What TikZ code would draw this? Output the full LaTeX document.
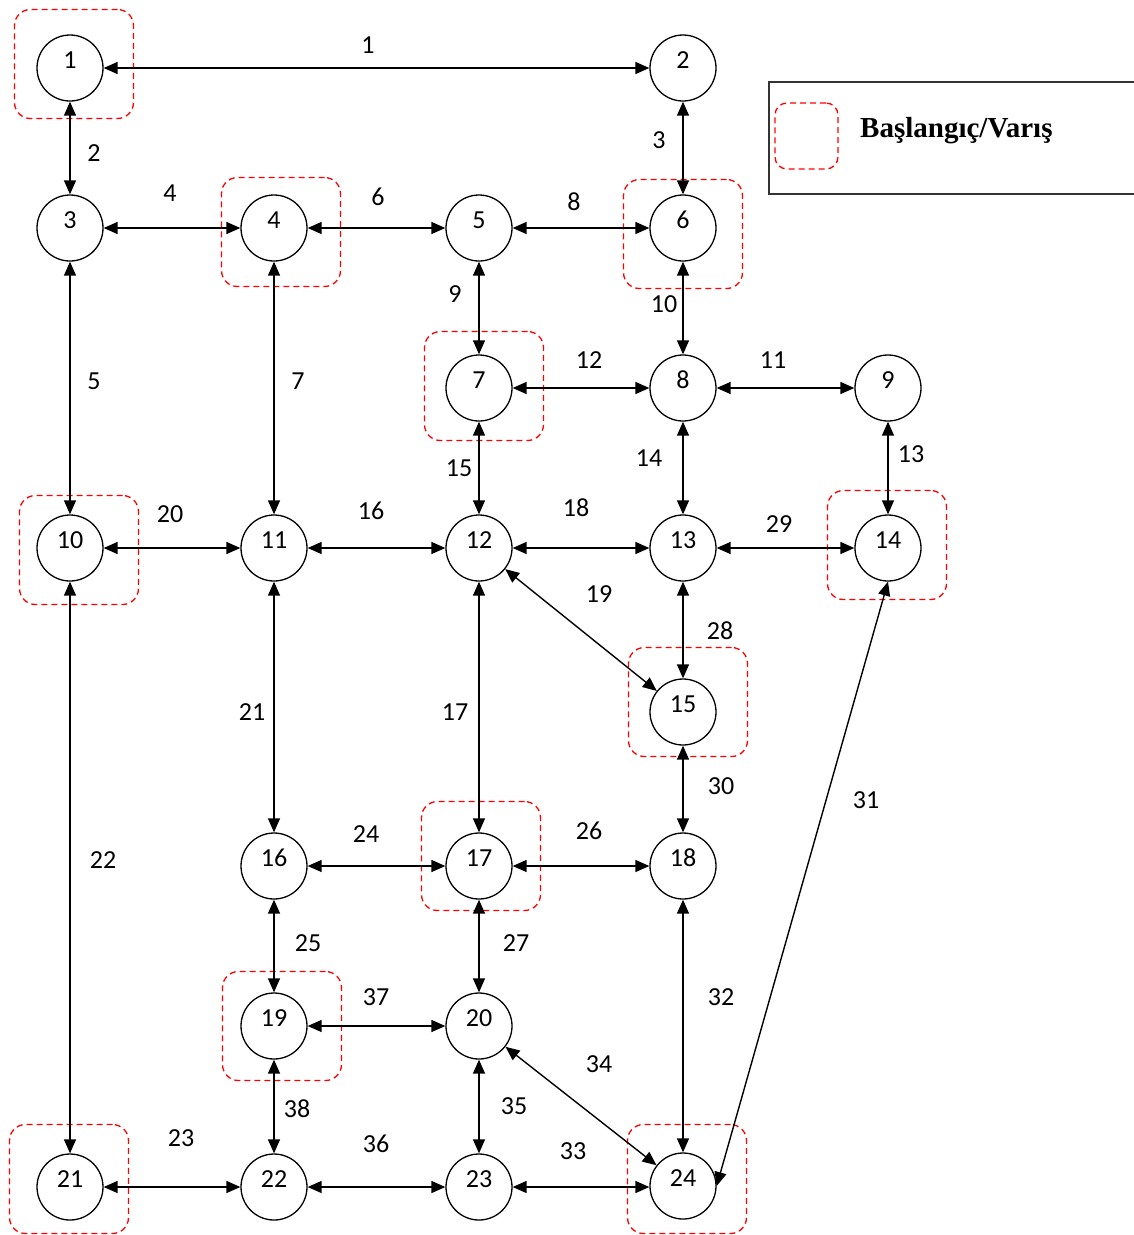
\documentclass[tikz,border=0pt]{standalone}
\usepackage{fontspec}
\setmainfont{Carlito}
\newfontfamily\legendfont{Liberation Serif}
\usetikzlibrary{arrows.meta}
\begin{document}
\begin{tikzpicture}[x=1pt,y=-1pt,
  gnode/.style={circle,draw,line width=1.3pt,minimum size=66pt,inner sep=0pt},
  numlbl/.style={font=\fontsize{26}{28}\selectfont,yshift=8pt,inner sep=0pt},
  elbl/.style={font=\fontsize{26}{28}\selectfont,inner sep=0pt},
  sdbox/.style={draw=red,dash pattern=on 6pt off 4pt,line width=1.3pt,rounded corners=16pt,minimum width=119pt,minimum height=109pt,inner sep=0pt},
  link/.style={line width=1.4pt,{Triangle[length=14pt,width=12pt]}-{Triangle[length=14pt,width=12pt]}}]
\useasboundingbox (0,0) rectangle (1134,1235);

% legend
\draw[line width=1.8pt,black!80] (1134,82) -- (769,82) -- (769,194) -- (1134,194);
\node[sdbox,minimum width=63pt,minimum height=66pt,rounded corners=12pt] (legbox) at (806.5,136) {};
\node[font=\legendfont\bfseries\fontsize{29}{31}\selectfont,anchor=west,inner sep=0pt] (legtxt) at (860,131) {Başlangıç/Varış};

% start/destination boxes
\node[sdbox] (b1) at (74,64) {};
\node[sdbox] (b4) at (281,232) {};
\node[sdbox] (b6) at (683,234) {};
\node[sdbox] (b7) at (484,386) {};
\node[sdbox] (b10) at (79,550) {};
\node[sdbox] (b14) at (887,545) {};
\node[sdbox] (b15) at (688,702) {};
\node[sdbox] (b17) at (481,856) {};
\node[sdbox] (b19) at (282,1026) {};
\node[sdbox] (b21) at (69,1179) {};
\node[sdbox] (b24) at (687,1179) {};

% nodes
\node[gnode,label={[numlbl]center:1}] (n1) at (70,68) {};
\node[gnode,label={[numlbl]center:2}] (n2) at (683,68) {};
\node[gnode,label={[numlbl]center:3}] (n3) at (70,228) {};
\node[gnode,label={[numlbl]center:4}] (n4) at (274,228) {};
\node[gnode,label={[numlbl]center:5}] (n5) at (479,228) {};
\node[gnode,label={[numlbl]center:6}] (n6) at (683,228) {};
\node[gnode,label={[numlbl]center:7}] (n7) at (479,388) {};
\node[gnode,label={[numlbl]center:8}] (n8) at (683,388) {};
\node[gnode,label={[numlbl]center:9}] (n9) at (888,388) {};
\node[gnode,label={[numlbl]center:10}] (n10) at (70,548) {};
\node[gnode,label={[numlbl]center:11}] (n11) at (274,548) {};
\node[gnode,label={[numlbl]center:12}] (n12) at (479,548) {};
\node[gnode,label={[numlbl]center:13}] (n13) at (683,548) {};
\node[gnode,label={[numlbl]center:14}] (n14) at (888,548) {};
\node[gnode,label={[numlbl]center:15}] (n15) at (683,712) {};
\node[gnode,label={[numlbl]center:16}] (n16) at (274,866) {};
\node[gnode,label={[numlbl]center:17}] (n17) at (479,866) {};
\node[gnode,label={[numlbl]center:18}] (n18) at (683,866) {};
\node[gnode,label={[numlbl]center:19}] (n19) at (274,1026) {};
\node[gnode,label={[numlbl]center:20}] (n20) at (479,1026) {};
\node[gnode,label={[numlbl]center:21}] (n21) at (70,1187) {};
\node[gnode,label={[numlbl]center:22}] (n22) at (274,1187) {};
\node[gnode,label={[numlbl]center:23}] (n23) at (479,1187) {};
\node[gnode,label={[numlbl]center:24}] (n24) at (683,1186) {};

% links
\draw[link] (n1) -- (n2);
\draw[link] (n1) -- (n3);
\draw[link] (n2) -- (n6);
\draw[link] (n3) -- (n4);
\draw[link] (n4) -- (n5);
\draw[link] (n5) -- (n6);
\draw[link] (n5) -- (n7);
\draw[link] (n6) -- (n8);
\draw[link] (n3) -- (n10);
\draw[link] (n4) -- (n11);
\draw[link] (n7) -- (n8);
\draw[link] (n8) -- (n9);
\draw[link] (n9) -- (n14);
\draw[link] (n8) -- (n13);
\draw[link] (n7) -- (n12);
\draw[link] (n10) -- (n11);
\draw[link] (n11) -- (n12);
\draw[link] (n12) -- (n13);
\draw[link] (n13) -- (n14);
\draw[link] (n12) -- (n15);
\draw[link] (n13) -- (n15);
\draw[link] (n11) -- (n16);
\draw[link] (n12) -- (n17);
\draw[link] (n15) -- (n18);
\draw[link] (n24.east) -- (n14.south);
\draw[link] (n10) -- (n21);
\draw[link] (n16) -- (n17);
\draw[link] (n17) -- (n18);
\draw[link] (n16) -- (n19);
\draw[link] (n17) -- (n20);
\draw[link] (n18) -- (n24);
\draw[link] (n19) -- (n20);
\draw[link] (n20) -- (n24);
\draw[link] (n19) -- (n22);
\draw[link] (n20) -- (n23);
\draw[link] (n21) -- (n22);
\draw[link] (n22) -- (n23);
\draw[link] (n23) -- (n24.west |- n23);

% link labels
\node[elbl] (e1) at (368,45) {1};
\node[elbl] (e2) at (94,153) {2};
\node[elbl] (e3) at (659,140) {3};
\node[elbl] (e4) at (170,193) {4};
\node[elbl] (e6) at (378,197) {6};
\node[elbl] (e8) at (574,202) {8};
\node[elbl] (e9) at (455,294) {9};
\node[elbl] (e10) at (664,304) {10};
\node[elbl] (e5) at (94,381) {5};
\node[elbl] (e7) at (298,381) {7};
\node[elbl] (e12) at (589,360) {12};
\node[elbl] (e11) at (773,360) {11};
\node[elbl] (e13) at (911,454) {13};
\node[elbl] (e14) at (649,458) {14};
\node[elbl] (e15) at (459,468) {15};
\node[elbl] (e20) at (170,514) {20};
\node[elbl] (e16) at (371,511) {16};
\node[elbl] (e18) at (576,508) {18};
\node[elbl] (e29) at (779,524) {29};
\node[elbl] (e19) at (599,594) {19};
\node[elbl] (e28) at (720,631) {28};
\node[elbl] (e21) at (252,712) {21};
\node[elbl] (e17) at (455,712) {17};
\node[elbl] (e30) at (721,786) {30};
\node[elbl] (e31) at (866,800) {31};
\node[elbl] (e22) at (103,860) {22};
\node[elbl] (e24) at (366,834) {24};
\node[elbl] (e26) at (589,831) {26};
\node[elbl] (e25) at (308,943) {25};
\node[elbl] (e27) at (516,943) {27};
\node[elbl] (e32) at (721,997) {32};
\node[elbl] (e37) at (376,997) {37};
\node[elbl] (e34) at (599,1064) {34};
\node[elbl] (e38) at (297,1109) {38};
\node[elbl] (e35) at (514,1106) {35};
\node[elbl] (e23) at (181,1138) {23};
\node[elbl] (e36) at (376,1144) {36};
\node[elbl] (e33) at (573,1151) {33};
\end{tikzpicture}
\end{document}
